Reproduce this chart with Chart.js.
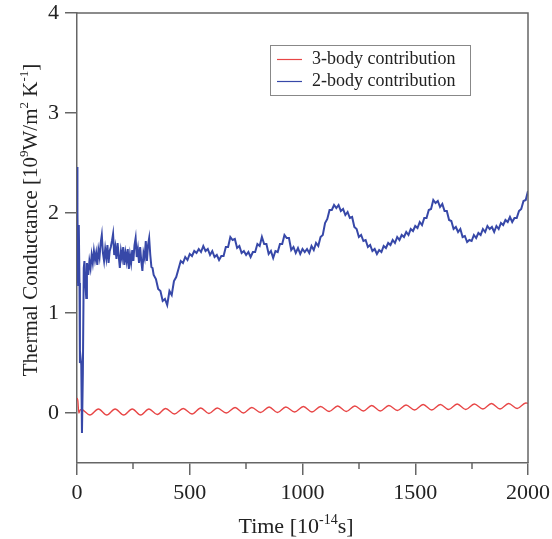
<!DOCTYPE html>
<html><head><meta charset="utf-8">
<script src="https://cdn.jsdelivr.net/npm/chart.js@4/dist/chart.umd.min.js"></script>
<style>html,body{margin:0;padding:0;background:#fff;}canvas{display:block;}</style>
</head><body>
<canvas id="c" width="552" height="539" style="width:552px;height:539px"></canvas>
<script>
const seriesLabels = ['3-body contribution', '2-body contribution'];
const xTicks = [0, 500, 1000, 1500, 2000];
const xMinorTicks = [250, 750, 1250, 1750];
const yTicks = [0, 1, 2, 3, 4];
const xTitleParts = [['Time [10', 0], ['-14', 1], ['s]', 0]];
const yTitleParts = [['Thermal Conductance [10', 0], ['9', 1], ['W/m', 0], ['2', 1], [' K', 0], ['-1', 1], [']', 0]];

const redTimes = [0,4,8,14,20,57,95,132,169,207,245,282,319,356,393,432,471,510,549,585,622,662,701,738,775,814,852,889,926,965,1004,1042,1080,1118,1156,1194,1232,1270,1307,1345,1383,1421,1459,1497,1535,1573,1611,1648,1686,1724,1762,1800,1838,1876,1914,1952,1990,2000];
const redValues = [0.15,0.12,0.0,0.03,0.035,-0.02,0.04,-0.02,0.04,-0.02,0.04,-0.02,0.04,-0.015,0.045,-0.01,0.045,-0.01,0.05,-0.005,0.05,0.0,0.055,0.0,0.055,0.005,0.06,0.005,0.06,0.01,0.065,0.01,0.065,0.015,0.07,0.015,0.07,0.02,0.075,0.02,0.075,0.025,0.08,0.03,0.085,0.03,0.085,0.035,0.09,0.035,0.09,0.04,0.095,0.04,0.095,0.045,0.1,0.097];

const blueTimes = [0,1,3,5,8,11,13,16,19,22,26,30,33,37,41,44,
50,55,60,65,70,75,80,85,90,95,
100,105,110,115,120,125,130,135,140,145,
150,155,160,165,170,175,180,185,190,195,
200,205,210,215,220,225,230,235,240,245,
250,255,260,265,270,275,280,285,290,295,
300,305,310,315,320,325,330,335,340,
350,360,370,380,390,400,410,420,430,440,
450,460,470,480,490,500,510,520,530,540,
550,560,570,580,590,600,610,620,630,640,
650,660,670,680,690,700,710,720,730,740,
750,760,770,780,790,800,810,820,830,840,
850,860,870,880,890,900,910,920,930,940,
950,960,970,980,990,1000,1010,1020,1030,1040,
1050,1060,1070,1080,1090,1100,1110,1120,1130,1140,
1150,1160,1170,1180,1190,1200,1210,1220,1230,1240,
1250,1260,1270,1280,1290,1300,1310,1320,1330,1340,
1350,1360,1370,1380,1390,1400,1410,1420,1430,1440,
1450,1460,1470,1480,1490,1500,1510,1520,1530,1540,
1550,1560,1570,1580,1590,1600,1610,1620,1630,1640,
1650,1660,1670,1680,1690,1700,1710,1720,1730,1740,
1750,1760,1770,1780,1790,1800,1810,1820,1830,1840,
1850,1860,1870,1880,1890,1900,1910,1920,1930,1940,
1950,1960,1970,1980,1990,2000];
const blueValues = [2.46,1.3,2.02,1.28,1.88,1.3,0.5,0.55,0.48,-0.2,0.4,1.45,1.52,1.3,1.15,1.5,
1.38,1.52,1.45,1.58,1.50,1.62,1.53,1.60,1.48,1.63,
1.56,1.70,1.78,1.60,1.52,1.64,1.55,1.68,1.50,1.62,
1.66,1.72,1.79,1.58,1.66,1.54,1.70,1.57,1.45,1.62,
1.55,1.66,1.48,1.60,1.52,1.64,1.44,1.58,1.50,1.63,
1.52,1.68,1.75,1.56,1.64,1.50,1.66,1.52,1.42,1.60,
1.55,1.72,1.52,1.68,1.75,1.58,1.46,1.45,1.38,
1.34,1.24,1.22,1.12,1.14,1.08,1.22,1.18,1.32,1.36,
1.44,1.52,1.50,1.56,1.53,1.59,1.57,1.62,1.60,1.64,
1.61,1.67,1.62,1.64,1.58,1.62,1.56,1.58,1.53,1.57,
1.57,1.66,1.66,1.76,1.73,1.74,1.65,1.67,1.60,1.62,
1.58,1.61,1.56,1.61,1.61,1.69,1.67,1.76,1.69,1.69,
1.59,1.62,1.55,1.62,1.61,1.69,1.69,1.78,1.75,1.75,
1.63,1.66,1.60,1.65,1.59,1.64,1.61,1.64,1.60,1.67,
1.63,1.70,1.67,1.76,1.78,1.90,1.94,2.03,2.03,2.08,
2.05,2.08,2.02,2.04,1.98,2.01,1.95,1.96,1.86,1.84,
1.76,1.78,1.72,1.73,1.66,1.68,1.62,1.64,1.59,1.63,
1.61,1.67,1.65,1.70,1.68,1.73,1.70,1.76,1.73,1.78,
1.76,1.81,1.78,1.84,1.82,1.87,1.85,1.91,1.88,1.95,
1.95,2.03,2.04,2.13,2.10,2.12,2.06,2.09,2.02,2.02,
1.93,1.92,1.84,1.86,1.81,1.84,1.76,1.77,1.71,1.73,
1.72,1.78,1.75,1.80,1.78,1.84,1.81,1.87,1.84,1.86,
1.81,1.87,1.84,1.90,1.88,1.93,1.91,1.96,1.91,1.95,
1.95,2.02,2.04,2.12,2.13,2.22];

const FONT = "'Liberation Serif','Times New Roman',serif";
const RED = 'rgb(232,70,70)';
const BLUE = 'rgb(55,72,168)';
const AX = '#666';
const TXT = '#222';

const redData = redTimes.map((t, i) => ({x: t, y: redValues[i]}));
const blueData = blueTimes.map((t, i) => ({x: t, y: blueValues[i]}));

function drawParts(ctx, parts, size, supSize, supRise) {
  let w = 0;
  parts.forEach(([t, s]) => { ctx.font = (s ? supSize : size) + 'px ' + FONT; w += ctx.measureText(t).width; });
  let x = -w / 2;
  parts.forEach(([t, s]) => {
    ctx.font = (s ? supSize : size) + 'px ' + FONT;
    ctx.fillText(t, x, s ? -supRise : 0);
    x += ctx.measureText(t).width;
  });
}

function noPad(s) { s.paddingLeft = 0; s.paddingRight = 0; s.paddingTop = 0; s.paddingBottom = 0; }

const decor = {
  id: 'decor',
  afterDraw(chart) {
    const {ctx, chartArea: a, scales} = chart;
    ctx.save();
    ctx.strokeStyle = AX; ctx.lineWidth = 1.5;
    ctx.beginPath();
    ctx.moveTo(a.left, a.top); ctx.lineTo(a.right, a.top); ctx.lineTo(a.right, a.bottom);
    ctx.stroke();
    ctx.beginPath();
    xMinorTicks.forEach(v => { const px = Math.round(scales.x.getPixelForValue(v)); ctx.moveTo(px, a.bottom); ctx.lineTo(px, a.bottom + 6); });
    ctx.stroke();
    ctx.fillStyle = TXT; ctx.textBaseline = 'alphabetic'; ctx.textAlign = 'left';
    ctx.save(); ctx.translate(296, 533); drawParts(ctx, xTitleParts, 22, 14, 9); ctx.restore();
    ctx.save(); ctx.translate(37, 220); ctx.rotate(-Math.PI / 2); drawParts(ctx, yTitleParts, 21, 13, 9); ctx.restore();
    const lx = 270.5, ly = 45.5, lw = 200, lh = 50;
    ctx.fillStyle = '#fff'; ctx.fillRect(lx, ly, lw, lh);
    ctx.strokeStyle = '#888'; ctx.lineWidth = 1; ctx.strokeRect(lx, ly, lw, lh);
    const entries = [[seriesLabels[0], RED, 59.5], [seriesLabels[1], BLUE, 81.5]];
    ctx.font = '18px ' + FONT; ctx.textBaseline = 'middle';
    entries.forEach(([lab, col, y]) => {
      ctx.strokeStyle = col; ctx.lineWidth = 1.2;
      ctx.beginPath(); ctx.moveTo(277, y); ctx.lineTo(302, y); ctx.stroke();
      ctx.fillStyle = TXT; ctx.fillText(lab, 312, y);
    });
    ctx.restore();
  }
};

new Chart(document.getElementById('c'), {
  type: 'scatter',
  data: { datasets: [
    { label: seriesLabels[1], data: blueData, showLine: true, borderColor: BLUE, backgroundColor: BLUE, borderWidth: 2, pointRadius: 0, tension: 0, order: 0 },
    { label: seriesLabels[0], data: redData, showLine: true, borderColor: RED, backgroundColor: RED, borderWidth: 1.3, pointRadius: 0, cubicInterpolationMode: 'monotone', order: 1 }
  ]},
  options: {
    responsive: false, animation: false, devicePixelRatio: 1,
    layout: { autoPadding: false, padding: { left: 0, top: 13, right: 24, bottom: 0 } },
    plugins: { legend: { display: false }, tooltip: { enabled: false } },
    scales: {
      x: {
        type: 'linear', min: 0, max: 2000,
        afterBuildTicks: s => { s.ticks = xTicks.map(v => ({ value: v })); },
        afterFit: s => { s.height = 76; noPad(s); },
        grid: { drawOnChartArea: false, drawTicks: true, tickLength: 12, color: AX, lineWidth: 1.5 },
        border: { display: true, color: AX, width: 1.5 },
        ticks: { font: { family: FONT, size: 22 }, color: TXT, padding: 5, maxRotation: 0, autoSkip: false, callback: v => String(v) }
      },
      y: {
        type: 'linear', min: -0.5, max: 4,
        afterBuildTicks: s => { s.ticks = yTicks.map(v => ({ value: v })); },
        afterFit: s => { s.width = 77; noPad(s); },
        grid: { drawOnChartArea: false, drawTicks: true, tickLength: 12, color: AX, lineWidth: 1.5 },
        border: { display: true, color: AX, width: 1.5 },
        ticks: { font: { family: FONT, size: 22 }, color: TXT, padding: 6, callback: v => String(v) }
      }
    }
  },
  plugins: [decor]
});
</script>
</body></html>
